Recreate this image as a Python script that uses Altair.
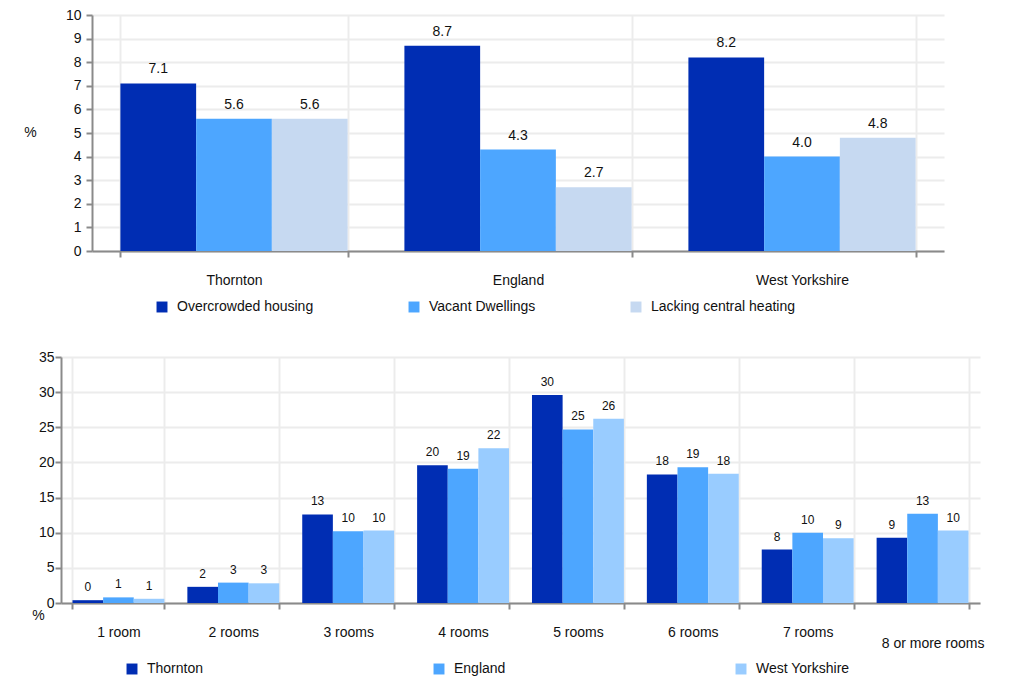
import altair as alt
import pandas as pd

# ---------------- data ----------------
regions = ["Thornton", "England", "West Yorkshire"]
measures = ["Overcrowded housing", "Vacant Dwellings", "Lacking central heating"]
overcrowded = [7.1, 8.7, 8.2]
vacant = [5.6, 4.3, 4.0]
lacking_heating = [5.6, 2.7, 4.8]

rooms = ["1 room", "2 rooms", "3 rooms", "4 rooms", "5 rooms", "6 rooms",
         "7 rooms", "8 or more rooms"]
areas = ["Thornton", "England", "West Yorkshire"]
thornton_rooms = [0.4, 2.3, 12.6, 19.6, 29.6, 18.3, 7.6, 9.3]
england_rooms = [0.8, 2.9, 10.2, 19.1, 24.7, 19.3, 10.0, 12.7]
wy_rooms = [0.6, 2.8, 10.3, 22.0, 26.2, 18.4, 9.2, 10.3]

top_colors = ["#002db3", "#4da6ff", "#c6d9f1"]
bottom_colors = ["#002db3", "#4da6ff", "#99ccff"]

FONT = "Liberation Sans"
AXIS_COLOR = "#8a8a8a"
GRID_COLOR = "#ececec"
TEXT_COLOR = "#111111"

top_rows = []
for series, vals in zip(measures, [overcrowded, vacant, lacking_heating]):
    for r, v in zip(regions, vals):
        top_rows.append({"region": r, "measure": series, "value": v})
top_df = pd.DataFrame(top_rows)

bot_rows = []
for series, vals in zip(areas, [thornton_rooms, england_rooms, wy_rooms]):
    for r, v in zip(rooms, vals):
        bot_rows.append({"rooms": r, "area": series, "value": v})
bot_df = pd.DataFrame(bot_rows)

# ---------------- top chart ----------------
# the top panel's plot starts 31px to the right of the bottom panel's
TOP_INSET = 31
TOP_W = 883
TOP_H = 236

x_top = alt.X(
    "region:N", sort=regions,
    scale=alt.Scale(paddingInner=0.2, paddingOuter=0.1, range=[TOP_INSET, TOP_W]),
    axis=alt.Axis(title=None, labelAngle=0, tickBand="extent", grid=True,
                  tickSize=6, labelPadding=16, labelFontSize=14),
)
xo_top = alt.XOffset("measure:N", sort=measures,
                     scale=alt.Scale(domain=measures, paddingInner=0, paddingOuter=0))
y_top = alt.Y(
    "value:Q", scale=alt.Scale(domain=[0, 10], nice=False),
    axis=alt.Axis(values=list(range(0, 11)), title="%", titleAngle=0,
                  offset=-TOP_INSET,
                  titleAlign="center", titleBaseline="middle",
                  titleX=-62, titleY=117, titleFontSize=14, titleFontWeight="normal",
                  titleFont=FONT, titleColor=TEXT_COLOR,
                  tickSize=6, labelPadding=5, labelFontSize=14),
)
base_top = alt.Chart(top_df)
bars_top = base_top.mark_bar().encode(
    x=x_top, xOffset=xo_top, y=y_top,
    color=alt.Color(
        "measure:N", sort=measures,
        scale=alt.Scale(domain=measures, range=top_colors),
        legend=alt.Legend(title=None, orient="none", legendX=94, legendY=285,
                          direction="horizontal", symbolType="square",
                          symbolSize=120, symbolStrokeWidth=0,
                          labelFontSize=14, labelFont=FONT, labelColor=TEXT_COLOR,
                          labelOffset=8, columnPadding=93),
    ),
)
text_top = base_top.mark_text(baseline="bottom", dy=-7, fontSize=14, font=FONT,
                              color=TEXT_COLOR).encode(
    x=x_top, xOffset=xo_top, y=y_top,
    text=alt.Text("value:Q", format=".1f"),
)
top = alt.layer(bars_top, text_top).properties(width=TOP_W, height=TOP_H)

# ---------------- bottom chart ----------------
x_bot = alt.X(
    "rooms:N", sort=rooms,
    scale=alt.Scale(paddingInner=0.2, paddingOuter=0.1),
    axis=alt.Axis(
        title=None, labelAngle=0, tickBand="extent", grid=True, tickSize=6,
        labelFontSize=14, labelLimit=200,
        labelPadding={"condition": {"test": "datum.value === '8 or more rooms'", "value": 27},
                      "value": 16},
        labelOffset={"condition": {"test": "datum.value === '8 or more rooms'", "value": 10},
                     "value": 0},
    ),
)
xo_bot = alt.XOffset("area:N", sort=areas,
                     scale=alt.Scale(domain=areas, paddingInner=0, paddingOuter=0))
y_bot = alt.Y(
    "value:Q", scale=alt.Scale(domain=[0, 35], nice=False),
    axis=alt.Axis(values=list(range(0, 36, 5)), title="%", titleAngle=0,
                  titleAlign="center", titleBaseline="middle",
                  titleX=-23, titleY=258, titleFontSize=14, titleFontWeight="normal",
                  titleFont=FONT, titleColor=TEXT_COLOR,
                  tickSize=6, labelPadding=1, labelFontSize=14),
)
base_bot = alt.Chart(bot_df)
bars_bot = base_bot.mark_bar().encode(
    x=x_bot, xOffset=xo_bot, y=y_bot,
    color=alt.Color(
        "area:N", sort=areas,
        scale=alt.Scale(domain=areas, range=bottom_colors),
        legend=alt.Legend(title=None, orient="none", legendX=64, legendY=305,
                          direction="horizontal", symbolType="square",
                          symbolSize=120, symbolStrokeWidth=0,
                          labelFontSize=14, labelFont=FONT, labelColor=TEXT_COLOR,
                          labelOffset=8, columnPadding=228),
    ),
)
text_bot = base_bot.mark_text(baseline="bottom", dy=-6, fontSize=12, font=FONT,
                              color=TEXT_COLOR).encode(
    x=x_bot, xOffset=xo_bot, y=y_bot,
    text=alt.Text("value:Q", format=".0f"),
)
bottom = alt.layer(bars_bot, text_bot).properties(width=919, height=246)

chart = (
    alt.vconcat(top, bottom, spacing=36)
    .resolve_scale(color="independent", xOffset="independent",
                   x="independent", y="independent")
    .resolve_legend(color="independent")
    .properties(padding={"left": 15, "top": 0, "right": 5, "bottom": 5})
    .configure_view(stroke=None)
    .configure_axis(
        domainColor=AXIS_COLOR, domainWidth=2,
        tickColor=AXIS_COLOR, tickWidth=2,
        gridColor=GRID_COLOR, gridWidth=2,
        labelFont=FONT, labelColor=TEXT_COLOR,
    )
)

chart.save("out.html", embed_options={"renderer": "svg", "actions": False})
